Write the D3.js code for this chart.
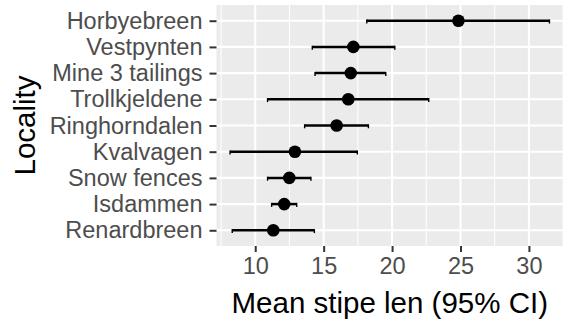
<!DOCTYPE html>
<html>
<head>
<meta charset="utf-8">
<script src="https://cdn.jsdelivr.net/npm/d3@7"></script>
<style>
  html, body { margin: 0; padding: 0; background: #fff; }
  svg { display: block; font-family: "Liberation Sans", Arial, sans-serif; }
</style>
</head>
<body>
<svg id="chart" width="563" height="321"></svg>
<script>
// Localities, listed top to bottom
const localities = ["Horbyebreen", "Vestpynten", "Mine 3 tailings", "Trollkjeldene",
  "Ringhorndalen", "Kvalvagen", "Snow fences", "Isdammen", "Renardbreen"];
// Mean stipe length and 95% confidence bounds per locality
const meanLen  = [24.85, 17.17, 16.98, 16.80, 15.95, 12.90, 12.49, 12.12, 11.32];
const lowerCI  = [18.15, 14.17, 14.37, 10.90, 13.61,  8.16, 10.90, 11.20,  8.32];
const upperCI  = [31.50, 20.20, 19.54, 22.68, 18.27, 17.46, 14.07, 13.03, 14.32];
const xTicks = [10, 15, 20, 25, 30];
const xMinor = [7.5, 12.5, 17.5, 22.5, 27.5, 32.5];

const rows = localities.map((name, i) => ({
  name, mean: meanLen[i], lo: lowerCI[i], hi: upperCI[i]
}));

const svg = d3.select("#chart");
const panel = { left: 216.5, right: 563, top: 5, bottom: 246 };

const x = d3.scaleLinear().domain([7.17, 32.49]).range([panel.left, panel.right]);
const y = d3.scalePoint().domain(localities).range([panel.top, panel.bottom]).padding(0.6);

// panel background
svg.append("rect")
  .attr("x", panel.left).attr("y", panel.top)
  .attr("width", panel.right - panel.left).attr("height", panel.bottom - panel.top)
  .attr("fill", "#EBEBEB");

const grid = svg.append("g");
grid.selectAll("line.minor").data(xMinor).join("line")
  .attr("x1", d => x(d)).attr("x2", d => x(d))
  .attr("y1", panel.top).attr("y2", panel.bottom)
  .attr("stroke", "#fff").attr("stroke-width", 1.05);
grid.selectAll("line.majx").data(xTicks).join("line")
  .attr("x1", d => x(d)).attr("x2", d => x(d))
  .attr("y1", panel.top).attr("y2", panel.bottom)
  .attr("stroke", "#fff").attr("stroke-width", 2.1);
grid.selectAll("line.majy").data(localities).join("line")
  .attr("x1", panel.left).attr("x2", panel.right)
  .attr("y1", d => y(d)).attr("y2", d => y(d))
  .attr("stroke", "#fff").attr("stroke-width", 2.1);

// confidence interval bars
const marks = svg.append("g");
marks.selectAll("line.ci").data(rows).join("line")
  .attr("x1", d => x(d.lo)).attr("x2", d => x(d.hi))
  .attr("y1", d => y(d.name)).attr("y2", d => y(d.name))
  .attr("stroke", "#000").attr("stroke-width", 2.5);
const caps = rows.flatMap(d => [{ v: d.lo, name: d.name }, { v: d.hi, name: d.name }]);
marks.selectAll("line.cap").data(caps).join("line")
  .attr("x1", d => x(d.v)).attr("x2", d => x(d.v))
  .attr("y1", d => y(d.name) - 1.2).attr("y2", d => y(d.name) + 2.8)
  .attr("stroke", "#000").attr("stroke-width", 1.4);
marks.selectAll("circle").data(rows).join("circle")
  .attr("cx", d => x(d.mean)).attr("cy", d => y(d.name))
  .attr("r", 6.3).attr("fill", "#000");

// axes
const xAxis = svg.append("g")
  .attr("transform", `translate(0,${panel.bottom})`)
  .call(d3.axisBottom(x).tickValues(xTicks).tickSize(6).tickPadding(5).tickFormat(d3.format("d")));
xAxis.select(".domain").remove();
xAxis.selectAll(".tick line").attr("stroke", "#333").attr("stroke-width", 2);
xAxis.selectAll(".tick text").attr("fill", "#4D4D4D")
  .attr("font-size", "23.5px").attr("font-family", "Liberation Sans, Arial, sans-serif");

const yAxis = svg.append("g")
  .attr("transform", `translate(${panel.left},0)`)
  .call(d3.axisLeft(y).tickSize(7).tickPadding(7));
yAxis.select(".domain").remove();
yAxis.selectAll(".tick line").attr("stroke", "#333").attr("stroke-width", 2);
yAxis.selectAll(".tick text").attr("fill", "#4D4D4D")
  .attr("font-size", "23.5px").attr("font-family", "Liberation Sans, Arial, sans-serif");

// axis titles
svg.append("text")
  .attr("x", (panel.left + panel.right) / 2).attr("y", 313)
  .attr("text-anchor", "middle").attr("font-size", "29.5px").attr("fill", "#000")
  .text("Mean stipe len (95% CI)");
svg.append("text")
  .attr("transform", `translate(35,${(panel.top + panel.bottom) / 2}) rotate(-90)`)
  .attr("text-anchor", "middle").attr("font-size", "29.5px").attr("fill", "#000")
  .text("Locality");
</script>
</body>
</html>
